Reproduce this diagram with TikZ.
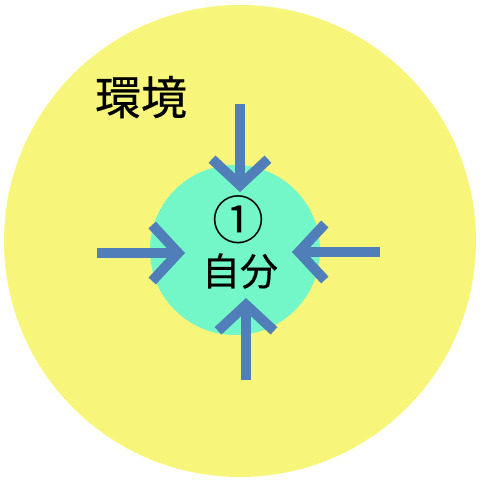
\documentclass[tikz,border=0pt]{standalone}
\usepackage{fontspec}
\setmainfont[FakeBold=0.5]{Noto Sans CJK JP}
\newfontfamily\kreisfont{Noto Sans CJK JP}
\usetikzlibrary{arrows.meta}

\definecolor{gelb}{RGB}{247,246,122}
\definecolor{tuerkis}{RGB}{115,247,200}
\definecolor{pfeilblau}{RGB}{80,126,184}

\tikzset{
  pfeil/.style={pfeilblau, line width=10pt,
    -{Straight Barb[length=26pt, width=56pt, line width=10pt]}},
}

\begin{document}
\begin{tikzpicture}[x=1pt,y=-1pt]
\useasboundingbox (0,0) rectangle (480,480);

\coordinate (mitte) at (240,241);
\coordinate (kern) at (235,250);

\fill[gelb] (mitte) circle (236);
\fill[tuerkis] (kern) circle (85);

\node (kankyo) at (141,97) {\fontsize{46}{50}\selectfont 環境};
\node (nummer) at (238,220) {\kreisfont\fontsize{52}{56}\selectfont ①};
\node (jibun) at (240,271) {\fontsize{38}{42}\selectfont 自分};

% Pfeile von aussen nach innen
\coordinate (oben) at (240,104);
\coordinate (obenspitze) at (240,192);
\coordinate (links) at (97,253);
\coordinate (linksspitze) at (185,253);
\coordinate (rechts) at (380,252);
\coordinate (rechtsspitze) at (292,252);
\coordinate (unten) at (246,380);
\coordinate (untenspitze) at (246,298);

\draw[pfeil] (oben) -- (obenspitze);
\draw[pfeil] (links) -- (linksspitze);
\draw[pfeil] (rechts) -- (rechtsspitze);
\draw[pfeil] (unten) -- (untenspitze);

\end{tikzpicture}
\end{document}
